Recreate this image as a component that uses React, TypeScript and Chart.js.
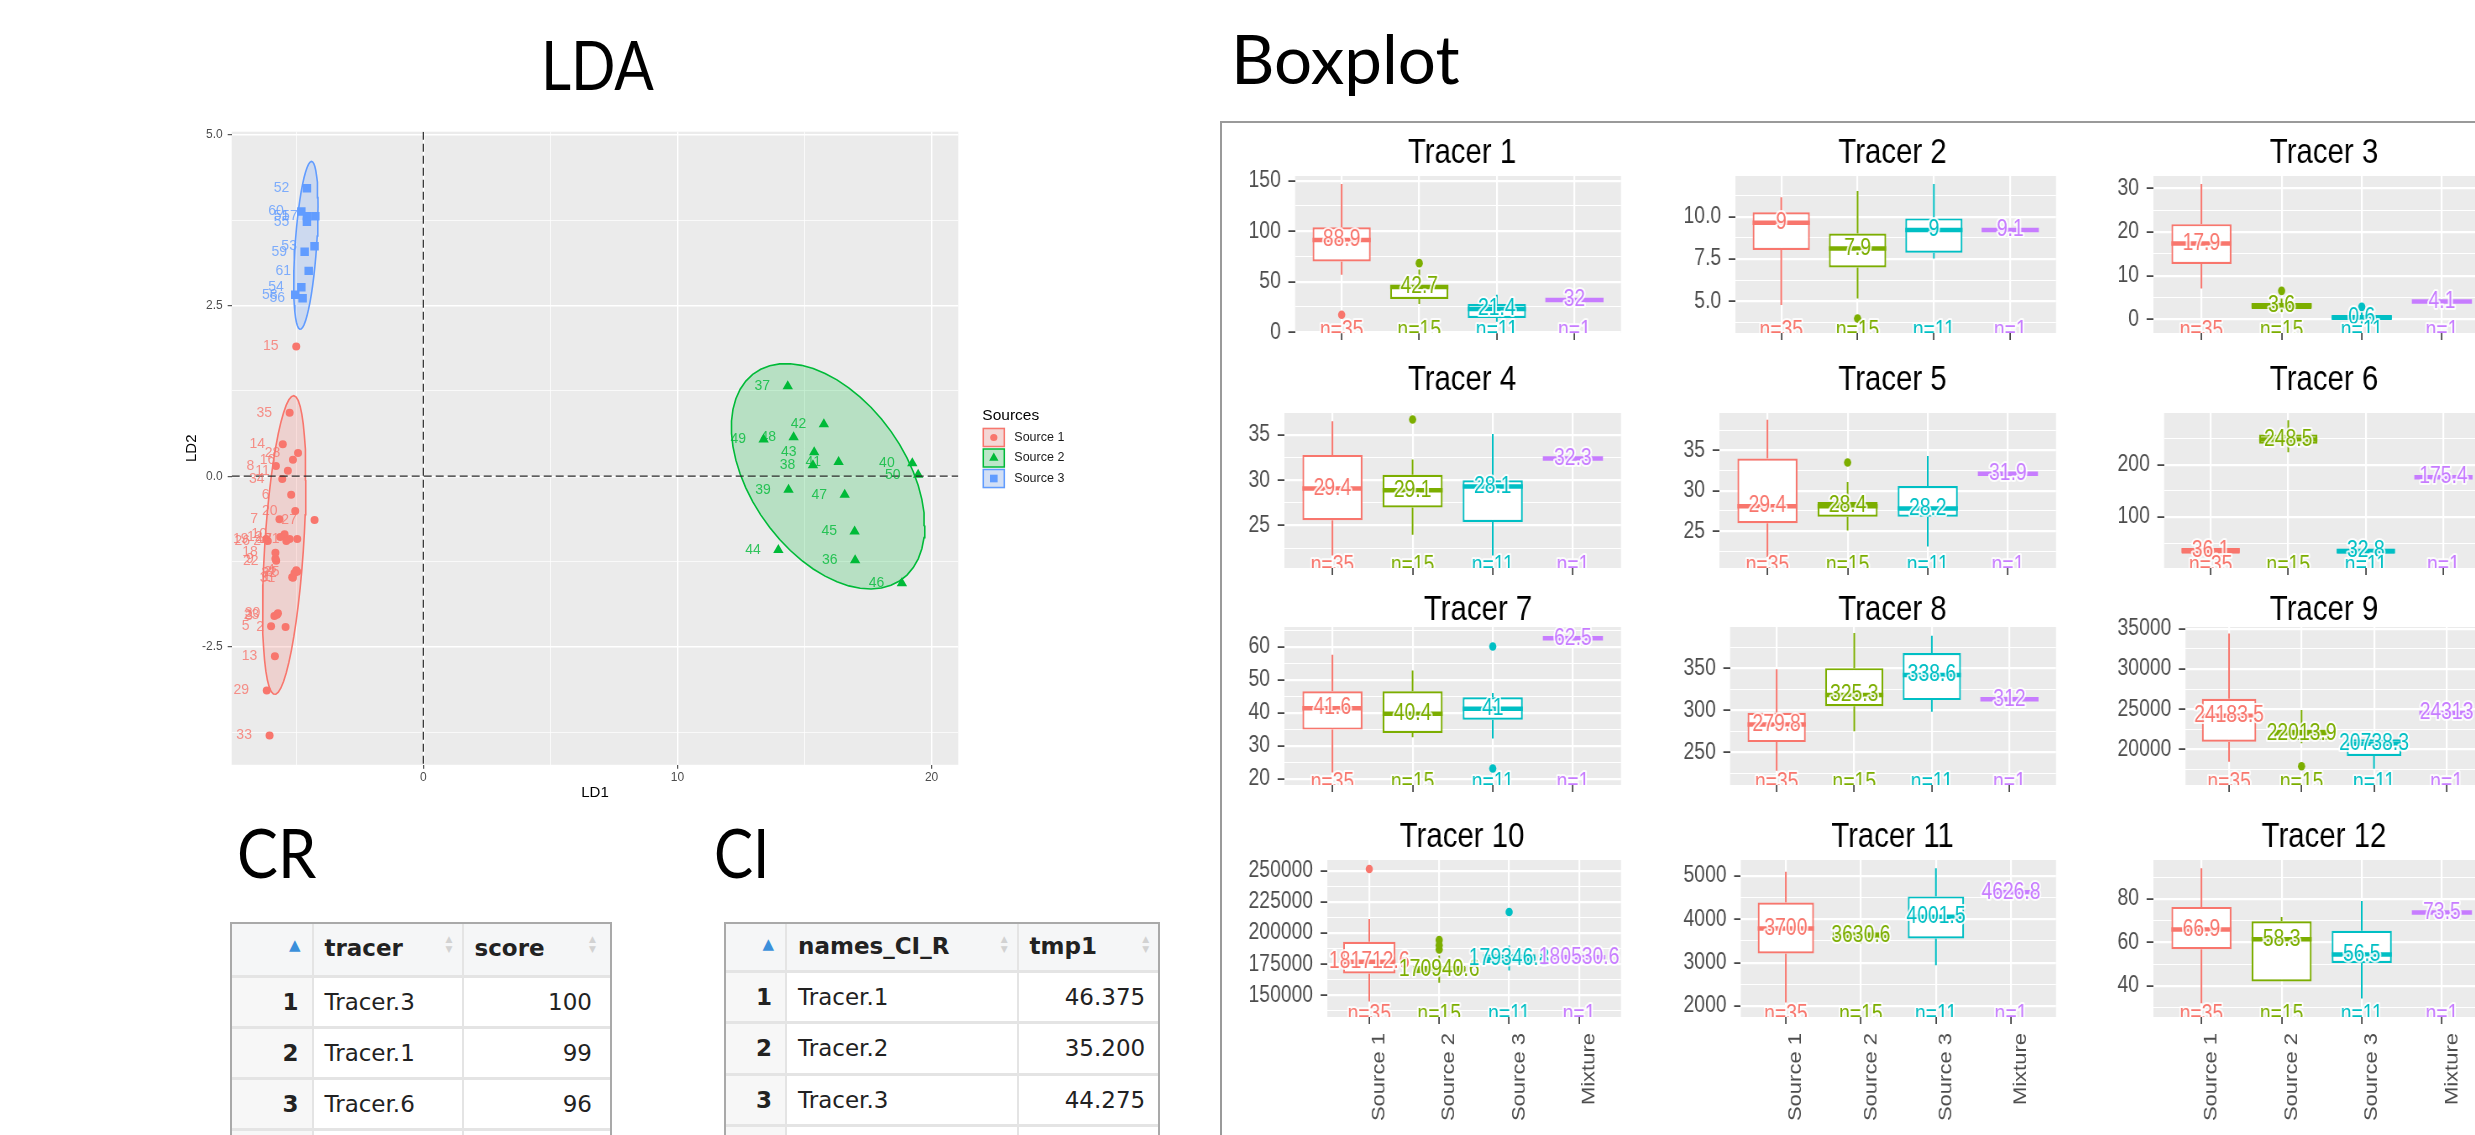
import React, { useEffect, useRef } from 'react';
import { Chart, registerables } from 'chart.js';

Chart.register(...registerables);

/* ============================ DATA ============================ */

// ---- LDA scores (LD1, LD2) of every sample, by source ----
const LDA_SOURCES = ['Source 1', 'Source 2', 'Source 3'];
const SRC1_ID = [1, 2, 3, 4, 5, 6, 7, 8, 9, 10, 11, 12, 13, 14, 15, 16, 17, 18, 19, 20, 21, 22, 23, 24, 25, 26, 27, 28, 29, 30, 31, 32, 33, 34, 35];
const SRC1_LD1 = [-5.16, -5.42, -5.86, -5.0, -5.99, -5.2, -5.66, -5.8, -5.82, -5.46, -5.33, -5.63, -5.84, -5.53, -5.0, -5.13, -5.26, -5.82, -6.18, -5.04, -4.96, -5.79, -5.76, -5.39, -4.96, -6.12, -4.28, -4.93, -6.16, -5.72, -5.13, -5.07, -6.05, -5.55, -5.26];
const SRC1_LD2 = [-1.48, -2.21, -2.05, -1.38, -2.2, -0.27, -0.63, 0.15, -1.21, -0.85, 0.08, -0.89, -2.64, 0.47, 1.9, 0.24, -0.92, -1.12, -0.92, -0.51, -0.92, -1.24, -2.03, -0.95, -1.4, -0.95, -0.64, 0.34, -3.14, -2.01, -1.49, -1.42, -3.8, -0.04, 0.93];
const SRC2_ID = [36, 37, 38, 39, 40, 41, 42, 43, 44, 45, 46, 47, 48, 49, 50];
const SRC2_LD1 = [16.99, 14.34, 15.33, 14.37, 19.24, 16.34, 15.76, 15.38, 13.97, 16.97, 18.83, 16.58, 14.57, 13.39, 19.47];
const SRC2_LD2 = [-1.23, 1.32, 0.16, -0.2, 0.19, 0.21, 0.76, 0.35, -1.08, -0.81, -1.57, -0.27, 0.57, 0.54, 0.02];
const SRC3_ID = [51, 52, 53, 54, 55, 56, 57, 58, 59, 60, 61];
const SRC3_LD1 = [-4.58, -4.58, -4.28, -4.8, -4.58, -4.75, -4.25, -5.04, -4.67, -4.8, -4.51];
const SRC3_LD2 = [3.81, 4.22, 3.37, 2.77, 3.73, 2.61, 3.81, 2.66, 3.29, 3.88, 3.01];
const LDA_X_TICKS = [0, 10, 20];
const LDA_Y_TICKS = [-2.5, 0, 2.5, 5];
const LDA_X_LIMITS = [-7.54, 21.05];
const LDA_Y_LIMITS = [-4.23, 5.05];
const LABEL_NUDGE_X = -1.0;
const ELLIPSE_LEVEL = 0.9;

// ---- Boxplot statistics: rows = tracers, columns = groups ----
const TRACERS = ['Tracer 1', 'Tracer 2', 'Tracer 3', 'Tracer 4', 'Tracer 5', 'Tracer 6', 'Tracer 7', 'Tracer 8', 'Tracer 9', 'Tracer 10', 'Tracer 11', 'Tracer 12'];
const GROUPS = ['Source 1', 'Source 2', 'Source 3', 'Mixture'];
const GROUP_N = [35, 15, 11, 1];
const WHISKER_HIGH = [
  [146.6, 62, 37.1, 32],
  [11.15, 11.52, 11.94, 9.21],
  [31.0, 4.8, 1.6, 4.1],
  [36.5, 32.3, 35.1, 32.4],
  [38.8, 31.1, 34.3, 32.1],
  [45, 285, 42, 176.4],
  [57.7, 52.9, 46.1, 62.7],
  [348.8, 392, 388.7, 313],
  [34380, 24900, 22100, 24530],
  [211300, 182000, 190000, 180530.6],
  [5100, 3850, 5180, 4626.8],
  [94.2, 71.8, 79.1, 73.8],
];
const BOX_UPPER = [
  [103.9, 46.3, 27.9, 32],
  [10.26, 9.01, 9.9, 9.21],
  [21.8, 3.8, 0.9, 4.1],
  [32.8, 30.6, 30.0, 32.4],
  [34.0, 28.6, 30.6, 32.1],
  [40.7, 258, 39.4, 176.4],
  [46.6, 46.6, 44.8, 62.7],
  [296.8, 350, 368, 313],
  [26290, 22500, 21290, 24530],
  [193000, 173500, 183000, 180530.6],
  [4390, 3700, 4530, 4626.8],
  [76.4, 69.8, 65.4, 73.8],
];
const MEDIAN = [
  [91.4, 44.7, 23.0, 32],
  [9.64, 8.12, 9.21, 9.21],
  [17.4, 3.2, 0.5, 4.1],
  [29.1, 28.9, 29.3, 32.4],
  [28.1, 28.1, 27.8, 32.1],
  [36.2, 248.5, 35, 176.4],
  [41.5, 39.8, 41.3, 62.7],
  [283, 318, 342, 313],
  [24183, 22014, 20738, 24530],
  [176900, 170940, 179347, 180530.6],
  [3790, 3630, 4060, 4626.8],
  [66, 61.5, 54.5, 73.8],
];
const BOX_LOWER = [
  [70.0, 32.9, 14.1, 32],
  [8.03, 7.0, 7.87, 9.21],
  [12.7, 2.4, -0.1, 4.1],
  [25.6, 27.0, 25.4, 32.4],
  [26.0, 26.8, 26.8, 32.1],
  [29.8, 240, 29.8, 176.4],
  [35.0, 34.0, 38.0, 62.7],
  [262, 304.8, 312, 313],
  [20970, 21200, 19210, 24530],
  [167500, 168000, 176000, 180530.6],
  [3210, 3560, 3560, 4626.8],
  [56.9, 42.1, 50.6, 73.8],
];
const WHISKER_LOW = [
  [56.9, 27.9, 10.5, 32],
  [4.77, 5.16, 7.53, 9.21],
  [7.1, 1.5, -0.6, 4.1],
  [21.7, 24.0, 21.7, 32.4],
  [21.8, 25.1, 23.1, 32.1],
  [25, 224, 25, 176.4],
  [22.0, 32.7, 32.3, 62.7],
  [228, 274.8, 298, 313],
  [18480, 20800, 17640, 24530],
  [145000, 160000, 170000, 180530.6],
  [2080, 3450, 2940, 4626.8],
  [32, 42.1, 34.2, 73.8],
];
const OUTLIERS = [
  [[17.4], [68.4], [], []],
  [[], [3.98], [], []],
  [[], [6.56], [2.9], []],
  [[], [36.7], [], []],
  [[], [33.5], [], []],
  [[], [], [], []],
  [[], [], [60.2, 23.2], []],
  [[], [], [], []],
  [[], [17930], [], []],
  [[251600], [194400, 190300, 186800], [217000], []],
  [[], [], [], []],
  [[], [], [], []],
];
const MEDIAN_LABELS = [
  ['88.9', '42.7', '21.4', '32'],
  ['9', '7.9', '9', '9.1'],
  ['17.9', '3.6', '0.6', '4.1'],
  ['29.4', '29.1', '28.1', '32.3'],
  ['29.4', '28.4', '28.2', '31.9'],
  ['36.1', '248.5', '32.8', '175.4'],
  ['41.6', '40.4', '41', '62.5'],
  ['279.8', '325.3', '338.6', '312'],
  ['24183.5', '22013.9', '20738.3', '24313'],
  ['181712.6', '170940.6', '179346.8', '180530.6'],
  ['3700', '3630.6', '4001.5', '4626.8'],
  ['66.9', '58.3', '56.5', '73.5'],
];
const Y_LIMITS = [
  [-0.7, 154.6], [3.12, 12.41], [-3.07, 32.8],
  [20.32, 37.42], [20.45, 39.62], [2.7, 299],
  [18.2, 66.1], [210.9, 399], [15610, 35200],
  [132500, 258870], [1745, 5370], [25.7, 98],
];
const Y_TICKS = [
  [0, 50, 100, 150], [5, 7.5, 10], [0, 10, 20, 30],
  [25, 30, 35], [25, 30, 35], [100, 200],
  [20, 30, 40, 50, 60], [250, 300, 350], [20000, 25000, 30000, 35000],
  [150000, 175000, 200000, 225000, 250000], [2000, 3000, 4000, 5000], [40, 60, 80],
];

// ---- tables ----
const CR_HEAD = ['', 'tracer', 'score'];
const CR_TRACER = ['Tracer.3', 'Tracer.1', 'Tracer.6'];
const CR_SCORE = [100, 99, 96];
const CI_HEAD = ['', 'names_CI_R', 'tmp1'];
const CI_TRACER = ['Tracer.1', 'Tracer.2', 'Tracer.3'];
const CI_TMP1 = [46.375, 35.2, 44.275];

/* ============================ STYLE / LAYOUT ============================ */

const FONT = "'Liberation Sans', Arial, sans-serif";
const TITLE_FONT = "Lato, 'Open Sans', sans-serif";
const TABLE_FONT = "'DejaVu Sans', sans-serif";
const PANEL_BG = '#EBEBEB';
const AXIS_TEXT = '#4D4D4D';
const LDA_COLORS = ['#F8766D', '#00BA38', '#619CFF'];
const LDA_SHAPES = ['circle', 'triangle', 'rect'];
const LDA_RADII = [4, 6, 6];
const GROUP_COLORS = ['#F8766D', '#7CAE00', '#00BFC4', '#C77CFF'];

const LDA_BOX = { left: 140, top: 118, width: 1000, height: 700 };
const LDA_AREA = { left: 231.7, top: 131.7, right: 958.3, bottom: 764.8 };
const LDA_XAXIS_H = 30;

const SQUISH = 0.84;
const COL_LEFT = [1234, 1668.5, 2103];
const PANEL_W = 387;
const PANEL_PAD_L = 7;
const ROW_PANEL_TOP = [176, 413, 626.7, 860];
const ROW_PANEL_BOTTOM = [332.7, 567.7, 784.3, 1016.7];
const ROW_TITLE_BASE = [163.3, 390, 620, 846.7];
const COL_TITLE_X = [1462, 1892, 2324];
const TITLE_X_SHIFT = [0, 0, 0, 0, 0, 0, 16, 0, 0, 0, 0, 0];
const BOX_PAD_TOP = 55;

/* ============================ HELPERS ============================ */

function hexA(hex: string, a: number) {
  const n = parseInt(hex.slice(1), 16);
  return `rgba(${(n >> 16) & 255},${(n >> 8) & 255},${n & 255},${a})`;
}

function withMinors(majors: number[], lo: number, hi: number) {
  const half = (majors[1] - majors[0]) / 2;
  const out: number[] = [];
  for (let k = -8; k <= majors.length * 2 + 8; k++) {
    const v = +(majors[0] + k * half).toPrecision(12);
    if (v >= lo && v <= hi) out.push(v);
  }
  return out;
}

function majorTest(majors: number[]) {
  const eps = Math.abs(majors[1] - majors[0]) * 1e-6;
  return (v: number) => majors.some((m) => Math.abs(m - v) <= eps);
}

// ggplot2 stat_ellipse (type "t"): robust multivariate-t covariance (MASS::cov.trob)
function trobEllipse(xs: number[], ys: number[], level: number, segments = 51) {
  const n = xs.length;
  const p = 2;
  const nu = 5;
  let lx = xs.reduce((a, b) => a + b, 0) / n;
  let ly = ys.reduce((a, b) => a + b, 0) / n;
  let w: number[] = new Array(n).fill(1);
  let cxx = 0, cxy = 0, cyy = 0;
  for (let it = 0; it <= 25; it++) {
    const w0 = w.slice();
    const sw = w.reduce((a, b) => a + b, 0);
    const dxs = xs.map((v) => v - lx);
    const dys = ys.map((v) => v - ly);
    let a = 0, b = 0, c = 0;
    for (let i = 0; i < n; i++) {
      a += (w[i] * dxs[i] * dxs[i]) / sw;
      b += (w[i] * dxs[i] * dys[i]) / sw;
      c += (w[i] * dys[i] * dys[i]) / sw;
    }
    const det = a * c - b * b;
    w = dxs.map((dx, i) => {
      const dy = dys[i];
      const q = (c * dx * dx - 2 * b * dx * dy + a * dy * dy) / det;
      return (nu + p) / (nu + q);
    });
    const sw2 = w.reduce((s, v) => s + v, 0);
    lx = xs.reduce((s, v, i) => s + w[i] * v, 0) / sw2;
    ly = ys.reduce((s, v, i) => s + w[i] * v, 0) / sw2;
    cxx = 0; cxy = 0; cyy = 0;
    for (let i = 0; i < n; i++) {
      cxx += (w[i] * dxs[i] * dxs[i]) / n;
      cxy += (w[i] * dxs[i] * dys[i]) / n;
      cyy += (w[i] * dys[i] * dys[i]) / n;
    }
    if (w.every((v, i) => Math.abs(v - w0[i]) < 0.01)) break;
  }
  const dfd = n - 1;
  const fq = (dfd / 2) * (Math.pow(1 - level, -2 / dfd) - 1);
  const r = Math.sqrt(2 * fq);
  const r11 = Math.sqrt(cxx);
  const r12 = cxy / r11;
  const r22 = Math.sqrt(Math.max(cyy - r12 * r12, 0));
  const pts: { x: number; y: number }[] = [];
  for (let k = 0; k <= segments; k++) {
    const t = (k * 2 * Math.PI) / segments;
    pts.push({ x: lx + r * Math.cos(t) * r11, y: ly + r * (Math.cos(t) * r12 + Math.sin(t) * r22) });
  }
  return pts;
}

function drawShape(ctx: CanvasRenderingContext2D, shape: string, x: number, y: number, r: number) {
  ctx.beginPath();
  if (shape === 'circle') {
    ctx.arc(x, y, r, 0, Math.PI * 2);
  } else if (shape === 'triangle') {
    ctx.moveTo(x, y - r);
    ctx.lineTo(x + r * 0.866, y + r * 0.5);
    ctx.lineTo(x - r * 0.866, y + r * 0.5);
    ctx.closePath();
  } else {
    const s = r * 0.7071;
    ctx.rect(x - s, y - s, 2 * s, 2 * s);
  }
  ctx.fill();
}

/* ============================ LDA CHART ============================ */

function LdaChart() {
  const ref = useRef<HTMLCanvasElement>(null);
  useEffect(() => {
    const groups = [
      { id: SRC1_ID, x: SRC1_LD1, y: SRC1_LD2 },
      { id: SRC2_ID, x: SRC2_LD1, y: SRC2_LD2 },
      { id: SRC3_ID, x: SRC3_LD1, y: SRC3_LD2 },
    ];
    const xt = withMinors(LDA_X_TICKS, LDA_X_LIMITS[0], LDA_X_LIMITS[1]);
    const yt = withMinors(LDA_Y_TICKS, LDA_Y_LIMITS[0], LDA_Y_LIMITS[1]);
    const xMaj = majorTest(LDA_X_TICKS);
    const yMaj = majorTest(LDA_Y_TICKS);

    const ellipses = groups.map((g, s) => ({
      type: 'line',
      label: LDA_SOURCES[s] + ' ellipse',
      data: trobEllipse(g.x, g.y, ELLIPSE_LEVEL),
      borderColor: LDA_COLORS[s],
      backgroundColor: hexA(LDA_COLORS[s], 0.22),
      borderWidth: 1.6,
      fill: 'shape',
      pointRadius: 0,
      tension: 0,
      order: 3,
    }));
    const points = groups.map((g, s) => ({
      type: 'scatter',
      label: LDA_SOURCES[s],
      data: g.x.map((v, i) => ({ x: v, y: g.y[i] })),
      pointStyle: LDA_SHAPES[s],
      pointRadius: LDA_RADII[s],
      pointBackgroundColor: LDA_COLORS[s],
      pointBorderColor: LDA_COLORS[s],
      pointBorderWidth: 0,
      order: 1,
    }));

    const decor = {
      id: 'ldaDecor',
      beforeDraw(chart: any) {
        const { ctx, chartArea: a } = chart;
        ctx.save();
        ctx.fillStyle = PANEL_BG;
        ctx.fillRect(a.left, a.top, a.right - a.left, a.bottom - a.top);
        ctx.restore();
      },
      afterDatasetsDraw(chart: any) {
        const { ctx, chartArea: a, scales } = chart;
        const xs = scales.x, ys = scales.y;
        ctx.save();
        ctx.beginPath();
        ctx.rect(a.left, a.top, a.right - a.left, a.bottom - a.top);
        ctx.clip();
        ctx.strokeStyle = '#2A2A2A';
        ctx.lineWidth = 1.2;
        ctx.setLineDash([8, 4]);
        const x0 = xs.getPixelForValue(0);
        const y0 = ys.getPixelForValue(0);
        ctx.beginPath();
        ctx.moveTo(x0, a.top); ctx.lineTo(x0, a.bottom);
        ctx.moveTo(a.left, y0); ctx.lineTo(a.right, y0);
        ctx.stroke();
        ctx.setLineDash([]);
        ctx.font = `14px ${FONT}`;
        ctx.textAlign = 'center';
        ctx.textBaseline = 'middle';
        groups.forEach((g, s) => {
          ctx.fillStyle = hexA(LDA_COLORS[s], 0.8);
          g.id.forEach((id, i) => {
            ctx.fillText(String(id), xs.getPixelForValue(g.x[i] + LABEL_NUDGE_X), ys.getPixelForValue(g.y[i]));
          });
        });
        ctx.restore();
      },
      afterDraw(chart: any) {
        const { ctx, chartArea: a } = chart;
        const cy = (a.top + a.bottom) / 2;
        ctx.save();
        ctx.fillStyle = '#000';
        ctx.font = `15px ${FONT}`;
        ctx.textAlign = 'center';
        ctx.textBaseline = 'middle';
        ctx.fillText('LD1', (a.left + a.right) / 2, a.bottom + 28);
        ctx.save();
        ctx.translate(a.left - 40, cy);
        ctx.rotate(-Math.PI / 2);
        ctx.fillText('LD2', 0, 0);
        ctx.restore();
        const lx = a.right + 24;
        ctx.textAlign = 'left';
        ctx.font = `15.5px ${FONT}`;
        ctx.fillText('Sources', lx, cy - 33);
        const offs = [-10.75, 9.75, 30.25];
        ctx.font = `12.5px ${FONT}`;
        LDA_SOURCES.forEach((name, s) => {
          const ky = cy + offs[s];
          ctx.fillStyle = '#F2F2F2';
          ctx.fillRect(lx, ky - 10, 23, 20);
          ctx.fillStyle = hexA(LDA_COLORS[s], 0.22);
          ctx.fillRect(lx + 1, ky - 9, 21, 18);
          ctx.strokeStyle = LDA_COLORS[s];
          ctx.lineWidth = 1.5;
          ctx.strokeRect(lx + 1, ky - 9, 21, 18);
          ctx.fillStyle = LDA_COLORS[s];
          drawShape(ctx, LDA_SHAPES[s], lx + 11.5, ky, LDA_RADII[s] * 0.9);
          ctx.fillStyle = '#1A1A1A';
          ctx.fillText(name, lx + 32, ky);
        });
        ctx.restore();
      },
    };

    const chart = new Chart(ref.current as HTMLCanvasElement, {
      type: 'scatter',
      data: { datasets: [...ellipses, ...points] as any },
      options: {
        responsive: false,
        animation: false,
        devicePixelRatio: 1,
        events: [],
        layout: {
          padding: {
            left: 0,
            top: LDA_AREA.top - LDA_BOX.top,
            right: LDA_BOX.left + LDA_BOX.width - LDA_AREA.right,
            bottom: LDA_BOX.top + LDA_BOX.height - LDA_AREA.bottom - LDA_XAXIS_H,
          },
        },
        plugins: { legend: { display: false }, tooltip: { enabled: false } },
        scales: {
          x: {
            type: 'linear',
            min: LDA_X_LIMITS[0],
            max: LDA_X_LIMITS[1],
            afterBuildTicks: (s: any) => { s.ticks = xt.map((v) => ({ value: v })); },
            afterFit: (s: any) => { s.height = LDA_XAXIS_H; },
            ticks: {
              autoSkip: false, maxRotation: 0, padding: 2, color: AXIS_TEXT,
              font: { family: FONT, size: 12 },
              callback: (v: any) => (xMaj(Number(v)) ? String(v) : ''),
            },
            grid: {
              color: '#FFFFFF',
              lineWidth: (c: any) => (c.tick && xMaj(c.tick.value) ? 1.4 : 0.7),
              tickColor: (c: any) => (c.tick && xMaj(c.tick.value) ? '#333333' : 'rgba(0,0,0,0)'),
              tickLength: 4,
              tickWidth: 1,
            },
            border: { display: false },
          },
          y: {
            type: 'linear',
            min: LDA_Y_LIMITS[0],
            max: LDA_Y_LIMITS[1],
            afterBuildTicks: (s: any) => { s.ticks = yt.map((v) => ({ value: v })); },
            afterFit: (s: any) => { s.width = LDA_AREA.left - LDA_BOX.left; },
            ticks: {
              autoSkip: false, padding: 5, color: AXIS_TEXT,
              font: { family: FONT, size: 12 },
              callback: (v: any) => (yMaj(Number(v)) ? Number(v).toFixed(1) : ''),
            },
            grid: {
              color: '#FFFFFF',
              lineWidth: (c: any) => (c.tick && yMaj(c.tick.value) ? 1.4 : 0.7),
              tickColor: (c: any) => (c.tick && yMaj(c.tick.value) ? '#333333' : 'rgba(0,0,0,0)'),
              tickLength: 4,
              tickWidth: 1,
            },
            border: { display: false },
          },
        },
      } as any,
      plugins: [decor],
    });
    return () => chart.destroy();
  }, []);
  return (
    <div style={{ position: 'absolute', left: LDA_BOX.left, top: LDA_BOX.top, width: LDA_BOX.width, height: LDA_BOX.height }}>
      <canvas ref={ref} width={LDA_BOX.width} height={LDA_BOX.height} style={{ display: 'block' }} />
    </div>
  );
}

/* ============================ BOX PANELS ============================ */

function BoxPanel({ idx }: { idx: number }) {
  const ref = useRef<HTMLCanvasElement>(null);
  const row = Math.floor(idx / 3);
  const col = idx % 3;
  const bottomRow = row === 3;
  const xAxisH = bottomRow ? 118 : 12;
  const padBottom = bottomRow ? 0 : 12;
  const canvasTop = ROW_PANEL_TOP[row] - BOX_PAD_TOP;
  const canvasH = Math.round(ROW_PANEL_BOTTOM[row] - canvasTop + xAxisH + padBottom);
  const canvasW = Math.round((PANEL_W + 6) / SQUISH);

  useEffect(() => {
    const yMin = Y_LIMITS[idx][0];
    const yMax = Y_LIMITS[idx][1];
    const majors = Y_TICKS[idx];
    const yt = withMinors(majors, yMin, yMax);
    const yMaj = majorTest(majors);
    const dec = majors.some((m) => !Number.isInteger(m)) ? 1 : 0;

    const outPts: { x: number; y: number }[] = [];
    const outCols: string[] = [];
    OUTLIERS[idx].forEach((vals, g) => vals.forEach((v) => { outPts.push({ x: g, y: v }); outCols.push(GROUP_COLORS[g]); }));

    const decor = {
      id: 'boxDecor',
      beforeDraw(chart: any) {
        const { ctx, chartArea: a } = chart;
        ctx.save();
        ctx.fillStyle = PANEL_BG;
        ctx.fillRect(a.left, a.top, a.right - a.left, a.bottom - a.top);
        ctx.restore();
      },
      beforeDatasetsDraw(chart: any) {
        const { ctx, chartArea: a, scales } = chart;
        const xs = scales.x, ys = scales.y;
        ctx.save();
        ctx.beginPath();
        ctx.rect(a.left, a.top, a.right - a.left, a.bottom - a.top);
        ctx.clip();
        ctx.lineWidth = 2;
        GROUPS.forEach((_, g) => {
          const px = xs.getPixelForValue(g);
          ctx.strokeStyle = GROUP_COLORS[g];
          ctx.beginPath();
          ctx.moveTo(px, ys.getPixelForValue(BOX_UPPER[idx][g]));
          ctx.lineTo(px, ys.getPixelForValue(WHISKER_HIGH[idx][g]));
          ctx.moveTo(px, ys.getPixelForValue(BOX_LOWER[idx][g]));
          ctx.lineTo(px, ys.getPixelForValue(WHISKER_LOW[idx][g]));
          ctx.stroke();
        });
        ctx.restore();
      },
      afterDatasetsDraw(chart: any) {
        const { ctx, chartArea: a, scales } = chart;
        const xs = scales.x, ys = scales.y;
        const halfW = 0.375 * (xs.getPixelForValue(1) - xs.getPixelForValue(0));
        ctx.save();
        ctx.beginPath();
        ctx.rect(a.left, a.top, a.right - a.left, a.bottom - a.top);
        ctx.clip();
        ctx.lineWidth = 4.5;
        GROUPS.forEach((_, g) => {
          const px = xs.getPixelForValue(g);
          const py = ys.getPixelForValue(MEDIAN[idx][g]);
          ctx.strokeStyle = GROUP_COLORS[g];
          ctx.beginPath();
          ctx.moveTo(px - halfW, py);
          ctx.lineTo(px + halfW, py);
          ctx.stroke();
        });
        ctx.font = `23px ${FONT}`;
        ctx.textAlign = 'center';
        ctx.lineJoin = 'round';
        GROUPS.forEach((_, g) => {
          const px = xs.getPixelForValue(g);
          const py = ys.getPixelForValue(MEDIAN[idx][g]);
          ctx.textBaseline = 'middle';
          ctx.strokeStyle = 'rgba(255,255,255,0.85)';
          ctx.lineWidth = 4;
          ctx.strokeText(MEDIAN_LABELS[idx][g], px, py);
          ctx.fillStyle = GROUP_COLORS[g];
          ctx.fillText(MEDIAN_LABELS[idx][g], px, py);
          const nTxt = `n=${GROUP_N[g]}`;
          ctx.textBaseline = 'alphabetic';
          ctx.strokeText(nTxt, px, a.bottom + 4);
          ctx.fillText(nTxt, px, a.bottom + 4);
        });
        ctx.restore();
      },
      afterDraw(chart: any) {
        const { ctx } = chart;
        ctx.save();
        ctx.fillStyle = '#000000';
        ctx.font = `35px ${FONT}`;
        ctx.textAlign = 'center';
        ctx.textBaseline = 'alphabetic';
        const tx = (COL_TITLE_X[col] + TITLE_X_SHIFT[idx] - COL_LEFT[col]) / SQUISH;
        ctx.fillText(TRACERS[idx], tx, ROW_TITLE_BASE[row] - canvasTop);
        ctx.restore();
      },
    };

    const chart = new Chart(ref.current as HTMLCanvasElement, {
      type: 'bar',
      data: {
        datasets: [
          {
            type: 'bar',
            label: 'box',
            data: GROUPS.map((_, g) => ({ x: g, y: [BOX_LOWER[idx][g], BOX_UPPER[idx][g]] })),
            backgroundColor: '#FFFFFF',
            borderColor: GROUP_COLORS,
            borderWidth: 2.2,
            borderSkipped: false,
            barPercentage: 0.75,
            categoryPercentage: 1,
            order: 2,
          },
          {
            type: 'scatter',
            label: 'outliers',
            data: outPts,
            pointBackgroundColor: outCols,
            pointBorderColor: outCols,
            pointBorderWidth: 0,
            pointRadius: 4.3,
            order: 1,
          },
        ] as any,
      },
      options: {
        responsive: false,
        animation: false,
        devicePixelRatio: 1,
        events: [],
        layout: {
          padding: {
            left: PANEL_PAD_L / SQUISH,
            right: canvasW - PANEL_W / SQUISH,
            top: BOX_PAD_TOP,
            bottom: padBottom,
          },
        },
        plugins: { legend: { display: false }, tooltip: { enabled: false } },
        scales: {
          x: {
            type: 'linear',
            min: -0.6,
            max: 3.6,
            offset: false,
            afterBuildTicks: (s: any) => { s.ticks = GROUPS.map((_, g) => ({ value: g })); },
            afterFit: (s: any) => { s.height = xAxisH; },
            ticks: {
              autoSkip: false,
              minRotation: bottomRow ? 90 : 0,
              maxRotation: bottomRow ? 90 : 0,
              padding: 9,
              labelOffset: bottomRow ? 12 : 0,
              color: AXIS_TEXT,
              font: { family: FONT, size: 22 },
              callback: (v: any) => (bottomRow ? GROUPS[Number(v)] : ''),
            },
            grid: { color: '#FFFFFF', lineWidth: 2.2, offset: false, tickColor: '#333333', tickLength: 7, tickWidth: 1.6 },
            border: { display: false },
          },
          y: {
            type: 'linear',
            min: yMin,
            max: yMax,
            beginAtZero: false,
            afterBuildTicks: (s: any) => { s.ticks = yt.map((v) => ({ value: v })); },
            ticks: {
              autoSkip: false,
              padding: 9,
              color: AXIS_TEXT,
              font: { family: FONT, size: 23 },
              callback: (v: any) => (yMaj(Number(v)) ? Number(v).toFixed(dec) : ''),
            },
            grid: {
              color: '#FFFFFF',
              lineWidth: (c: any) => (c.tick && yMaj(c.tick.value) ? 2.2 : 1.1),
              tickColor: (c: any) => (c.tick && yMaj(c.tick.value) ? '#333333' : 'rgba(0,0,0,0)'),
              tickLength: 8,
              tickWidth: 1.6,
            },
            border: { display: false },
          },
        },
      } as any,
      plugins: [decor],
    });
    return () => chart.destroy();
  }, []);

  return (
    <div style={{ position: 'absolute', left: COL_LEFT[col], top: canvasTop, width: canvasW, height: canvasH, transform: `scaleX(${SQUISH})`, transformOrigin: '0 0' }}>
      <canvas ref={ref} width={canvasW} height={canvasH} style={{ display: 'block' }} />
    </div>
  );
}

/* ============================ TEXT + TABLES ============================ */

function SlideTitle({ text, left, baseline, size = 68, sx = 0.86 }: any) {
  const top = baseline - 0.887 * size;
  return (
    <div style={{ position: 'absolute', left, top, fontFamily: TITLE_FONT, fontSize: size, lineHeight: 1, whiteSpace: 'nowrap', color: '#000', transform: `scaleX(${sx})`, transformOrigin: '0 0' }}>
      {text}
    </div>
  );
}

function RTable({ left, top, colW, headH, rowH, head, rows, rightGap }: any) {
  const total = colW.reduce((a: number, b: number) => a + b, 0);
  const line = '#E4E4E4';
  const allRows = [...rows, ['', '', '']];
  return (
    <div style={{ position: 'absolute', left, top, width: total + rightGap + 2, height: 400, borderTop: '2px solid #A9A9A9', borderLeft: '2px solid #A9A9A9', borderRight: '2px solid #A9A9A9', boxSizing: 'border-box', background: '#FFFFFF', fontFamily: TABLE_FONT, color: '#222', overflow: 'hidden' }}>
      <div style={{ display: 'flex', height: headH, background: '#F5F6F7', borderBottom: `3px solid ${line}`, boxSizing: 'border-box' }}>
        {head.map((h: string, c: number) => (
          <div key={c} style={{ position: 'relative', width: colW[c], flex: 'none', height: '100%', boxSizing: 'border-box', borderLeft: c ? `2px solid ${line}` : 'none' }}>
            {c === 0 ? (
              <span style={{ position: 'absolute', right: 11, top: headH * 0.22, color: '#3B8FDB', fontSize: 15 }}>▲</span>
            ) : (
              <>
                <span style={{ position: 'absolute', left: 11, top: '50%', transform: 'translateY(-55%)', fontWeight: 'bold', fontSize: 23, whiteSpace: 'nowrap' }}>{h}</span>
                <span style={{ position: 'absolute', right: 9, top: headH * 0.2, color: '#D2D2D2', fontSize: 9, lineHeight: '10px', textAlign: 'center' }}>▲<br />▼</span>
              </>
            )}
          </div>
        ))}
      </div>
      {allRows.map((r: any[], i: number) => (
        <div key={i} style={{ display: 'flex', height: rowH, borderBottom: `3px solid ${line}`, boxSizing: 'border-box', fontSize: 23 }}>
          <div style={{ width: colW[0], flex: 'none', background: '#F7F7F7', display: 'flex', alignItems: 'center', justifyContent: 'flex-end', paddingRight: 13, boxSizing: 'border-box', fontWeight: 'bold' }}>{i < rows.length ? i + 1 : ''}</div>
          <div style={{ width: colW[1], flex: 'none', borderLeft: `2px solid ${line}`, display: 'flex', alignItems: 'center', paddingLeft: 11, boxSizing: 'border-box' }}>{r[0]}</div>
          <div style={{ width: colW[2], flex: 'none', borderLeft: `2px solid ${line}`, display: 'flex', alignItems: 'center', justifyContent: 'flex-end', paddingRight: 13, boxSizing: 'border-box' }}>{r[1]}</div>
        </div>
      ))}
    </div>
  );
}

/* ============================ APP ============================ */

export default function App() {
  const crRows = CR_TRACER.map((t, i) => [t, String(CR_SCORE[i])]);
  const ciRows = CI_TRACER.map((t, i) => [t, CI_TMP1[i].toFixed(3)]);
  return (
    <div style={{ position: 'fixed', left: 0, top: 0, width: 2475, height: 1135, overflow: 'hidden', background: '#FFFFFF' }}>
      <SlideTitle text="LDA" left={541} baseline={90} />
      <SlideTitle text="Boxplot" left={1231} baseline={84} sx={0.99} />
      <SlideTitle text="CR" left={237} baseline={878} sx={0.9} />
      <SlideTitle text="CI" left={714} baseline={878} />
      <LdaChart />
      <RTable left={229.5} top={921.7} colW={[80, 150, 143.5]} headH={54} rowH={51} head={CR_HEAD} rows={crRows} rightGap={7} />
      <RTable left={723.8} top={922.3} colW={[59.3, 231.5, 141.6]} headH={48.4} rowH={51.5} head={CI_HEAD} rows={ciRows} rightGap={2} />
      <div style={{ position: 'absolute', left: 1220, top: 121, width: 1400, height: 1200, border: '2px solid #9A9A9A', boxSizing: 'border-box' }} />
      {TRACERS.map((_, i) => (
        <BoxPanel key={i} idx={i} />
      ))}
    </div>
  );
}
